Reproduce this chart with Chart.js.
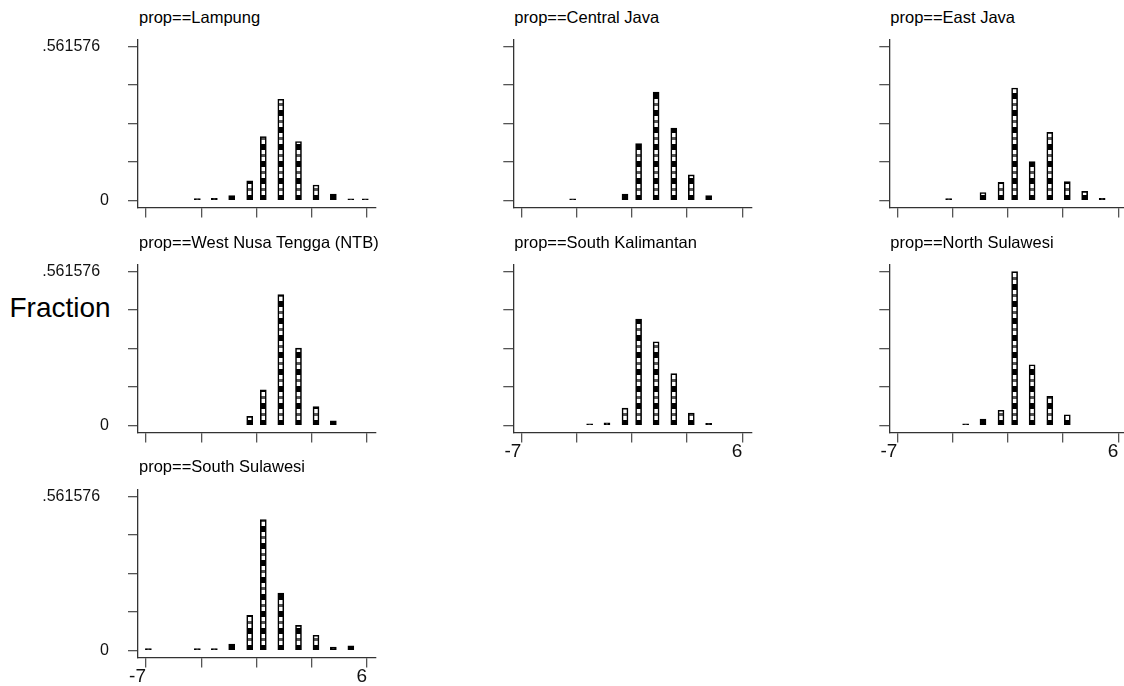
<!DOCTYPE html>
<html>
<head>
<meta charset="utf-8">
<script src="https://cdn.jsdelivr.net/npm/chart.js@4/dist/chart.umd.min.js"></script>
<style>
  html, body { margin: 0; padding: 0; background: #fff; }
  #wrap { position: relative; width: 1124px; height: 686px; overflow: hidden; background: #fff; }
  canvas { position: absolute; }
  .ttl { position: absolute; font-family: "Liberation Sans", Arial, sans-serif; font-size: 16.5px; line-height: 16.5px; color: #000; white-space: nowrap; }
  #frac { position: absolute; left: 9.5px; top: 293.5px; font-family: "Liberation Sans", Arial, sans-serif; font-size: 28px; line-height: 28px; color: #000; }
</style>
</head>
<body>
<div id="wrap"><div id="frac">Fraction</div></div>
<script>
// ---- data ----
const bins = [-6.86, -3.98, -2.98, -1.96, -0.9, -0.1, 0.93, 1.97, 3.0, 4.02, 5.05, 5.9];
const lampung         = [null, 0.007, 0.008, 0.018, 0.071, 0.233, 0.369, 0.215, 0.056, 0.023, 0.006, 0.006];
const centralJava     = [null, 0.006, null, null, 0.023, 0.207, 0.395, 0.264, 0.093, 0.018, null, null];
const eastJava        = [null, 0.007, null, 0.029, 0.066, 0.410, 0.142, 0.248, 0.069, 0.033, 0.008, null];
const westNusa        = [null, null, null, null, 0.033, 0.130, 0.477, 0.282, 0.069, 0.017, null, null];
const southKalimantan = [null, null, 0.006, 0.009, 0.063, 0.388, 0.305, 0.189, 0.045, 0.008, null, null];
const northSulawesi   = [null, null, 0.006, 0.023, 0.055, 0.561576, 0.221, 0.106, 0.039, null, null, null];
const southSulawesi   = [0.007, 0.007, 0.007, 0.023, 0.128, 0.477, 0.209, 0.091, 0.055, 0.012, 0.017, null];
const panelTitles = ["prop==Lampung", "prop==Central Java", "prop==East Java",
  "prop==West Nusa Tengga (NTB)", "prop==South Kalimantan", "prop==North Sulawesi", "prop==South Sulawesi"];
const panelValues = [lampung, centralJava, eastJava, westNusa, southKalimantan, northSulawesi, southSulawesi];
const yTicks = [0, 0.140394, 0.280788, 0.421182, 0.561576];
const yTickLabels = ["0", "", "", "", ".561576  "];
const xTicks = [-7, -3.75, -0.5, 2.75, 6];
const xTickLabels = ["-7", "", "", "", "6"];

// ---- layout (grid position, which labels shown) ----
const layoutSpec = [
  {r:0, c:0, yl:true,  xl:false},
  {r:0, c:1, yl:false, xl:false},
  {r:0, c:2, yl:false, xl:false},
  {r:1, c:0, yl:true,  xl:false},
  {r:1, c:1, yl:false, xl:true},
  {r:1, c:2, yl:false, xl:true},
  {r:2, c:0, yl:true,  xl:true}
];
const colX = [0, 375.3, 751.3];
const rowY = [0, 225, 449.8];
const CW = 380, CH = 236;

// bar fill pattern: black knots every 17px (aligned to the baseline), white between
const pc = document.createElement('canvas');
pc.width = 1; pc.height = 17;
const pctx = pc.getContext('2d');
pctx.fillStyle = '#fff'; pctx.fillRect(0, 0, 1, 17);
pctx.fillStyle = '#000'; pctx.fillRect(0, 8, 1, 6);
pctx.fillStyle = '#555'; pctx.fillRect(0, 1, 1, 3);
const barPattern = pctx.createPattern(pc, 'repeat');

const wrap = document.getElementById('wrap');
const FONT = "'Liberation Sans', Arial, sans-serif";

layoutSpec.forEach((sp, i) => {
  const left = Math.round(colX[sp.c]);
  const top = Math.round(rowY[sp.r]);
  const padLeft = 38 + (colX[sp.c] - left);
  const padTop = 39.5 + (rowY[sp.r] - top);

  const t = document.createElement('div');
  t.className = 'ttl';
  t.textContent = panelTitles[i];
  t.style.left = (colX[sp.c] + 139) + 'px';
  t.style.top = (rowY[sp.r] + 8.5) + 'px';
  wrap.appendChild(t);

  const cv = document.createElement('canvas');
  cv.width = CW; cv.height = CH;
  cv.style.left = left + 'px'; cv.style.top = top + 'px';
  cv.style.width = CW + 'px'; cv.style.height = CH + 'px';
  wrap.appendChild(cv);

  const vals = panelValues[i];
  const pts = [];
  bins.forEach((b, k) => { if (vals[k] !== null) pts.push({x: b, y: vals[k]}); });

  new Chart(cv.getContext('2d'), {
    type: 'bar',
    data: {
      datasets: [{
        data: pts,
        backgroundColor: barPattern,
        borderColor: '#000',
        borderWidth: 1.6,
        borderSkipped: false,
        barThickness: 6
      }]
    },
    options: {
      responsive: false,
      animation: false,
      devicePixelRatio: 1,
      layout: { padding: { left: padLeft, top: padTop, right: CW - 376 - (colX[sp.c] - left), bottom: 0 } },
      plugins: { legend: { display: false }, tooltip: { enabled: false }, title: { display: false } },
      scales: {
        x: {
          type: 'linear',
          offset: false,
          min: -7.4706, max: 6.529,
          afterFit: s => { s.height = 28; },
          afterBuildTicks: s => { s.ticks = xTicks.map(v => ({value: v})); },
          border: { display: true, color: '#333', width: 1.3 },
          grid: { offset: false, drawOnChartArea: false, drawTicks: true, tickLength: 10, color: '#555', lineWidth: 1.3 },
          ticks: {
            autoSkip: false, maxRotation: 0, minRotation: 0, align: 'end', padding: -2,
            color: '#111', font: { family: FONT, size: 19 },
            callback: (v) => { if (!sp.xl) return ''; const k = xTicks.indexOf(v); return k >= 0 ? xTickLabels[k] : ''; }
          }
        },
        y: {
          min: -0.02548, max: 0.58705,
          afterFit: s => { s.width = 100; },
          afterBuildTicks: s => { s.ticks = yTicks.map(v => ({value: v})); },
          border: { display: true, color: '#333', width: 1.3 },
          grid: { drawOnChartArea: false, drawTicks: true, tickLength: 10, color: '#555', lineWidth: 1.3 },
          ticks: {
            autoSkip: false, padding: 19,
            color: '#111', font: { family: FONT, size: 16 },
            callback: (v) => { if (!sp.yl) return ''; const k = yTicks.indexOf(v); return k >= 0 ? yTickLabels[k] : ''; }
          }
        }
      }
    }
  });
});
</script>
</body>
</html>
